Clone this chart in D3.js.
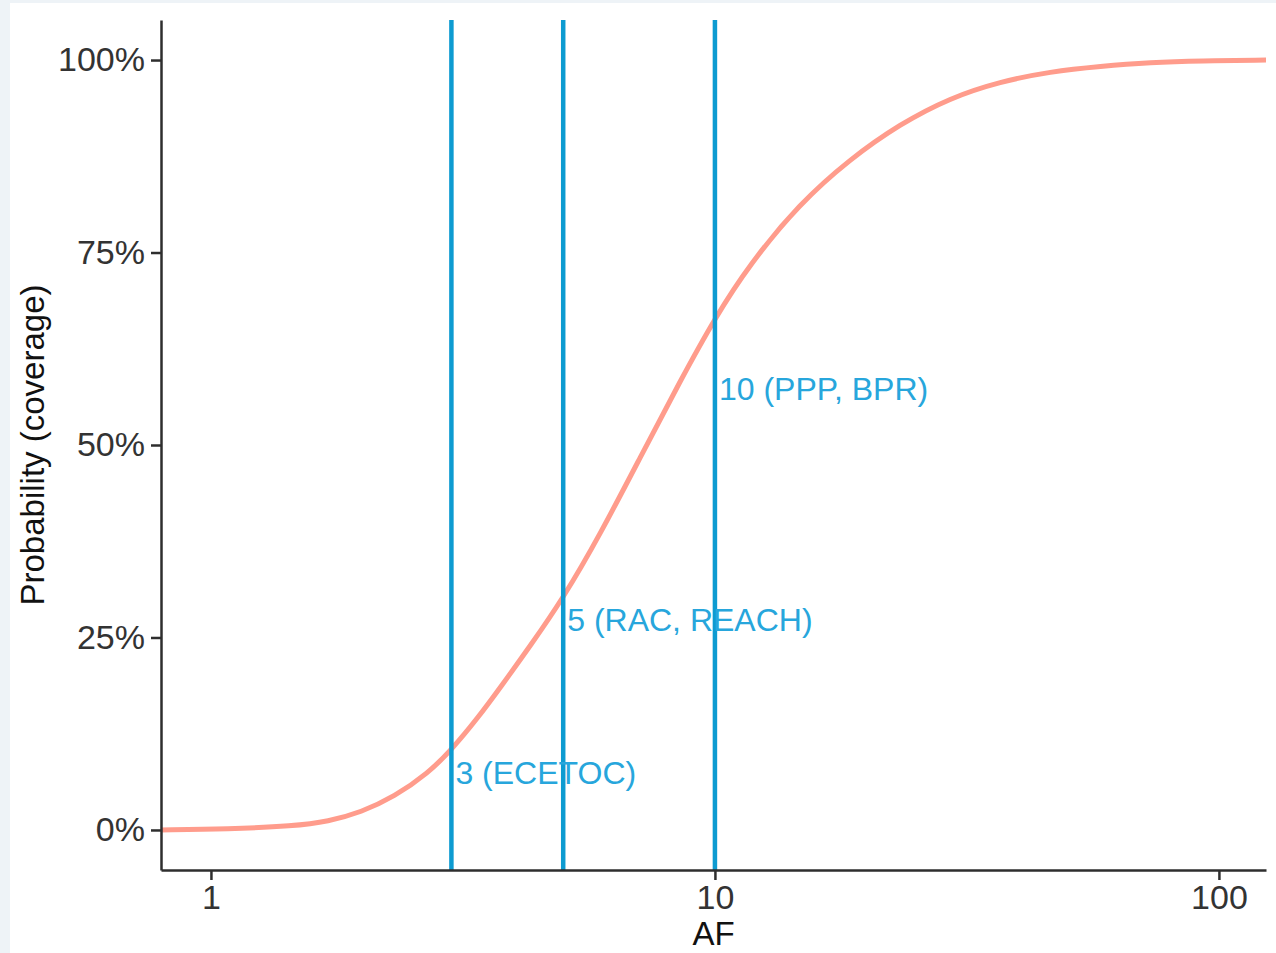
<!DOCTYPE html>
<html>
<head>
<meta charset="utf-8">
<script src="https://cdn.jsdelivr.net/npm/d3@7"></script>
<style>
  body { margin: 0; background: #eef3f7; }
  svg { display: block; }
  text { font-family: "Liberation Sans", Arial, sans-serif; }
</style>
</head>
<body>
<script>
// coverage curve (AF, probability)
const afValues = [0.796, 1.08, 1.46, 1.71, 1.985, 2.31, 2.70, 3.0, 3.39, 3.76, 4.29, 5.0, 5.91, 7.11, 8.53, 10, 11.73, 14.7, 18.5, 23.3, 29.3, 36.8, 46.3, 58.2, 73.2, 92, 124];
const coverage = [0, 0.001, 0.005, 0.011, 0.023, 0.043, 0.074, 0.104, 0.146, 0.186, 0.238, 0.301, 0.383, 0.484, 0.583, 0.665, 0.735, 0.813, 0.871, 0.917, 0.951, 0.972, 0.985, 0.992, 0.997, 0.999, 1.0];

// reference assessment factors
const refAF = [3, 5, 10];
const refLabels = ["3 (ECETOC)", "5 (RAC, REACH)", "10 (PPP, BPR)"];
const refLabelY = [0.075, 0.273, 0.574];

const xTicks = [1, 10, 100];
const yTicks = [0, 0.25, 0.5, 0.75, 1];

const width = 1276, height = 953;
const plotLeft = 161, plotRight = 1266, plotTop = 20, plotBottom = 870;

const svg = d3.select("body").append("svg")
    .attr("width", width)
    .attr("height", height);

svg.append("rect")
    .attr("x", 10).attr("y", 3)
    .attr("width", width - 10).attr("height", height - 3)
    .attr("fill", "#ffffff");

const x = d3.scaleLog()
    .domain([0.796, 124])
    .range([plotLeft, plotRight]);

const y = d3.scaleLinear()
    .domain([-0.052, 1.052])
    .range([plotBottom, plotTop]);

svg.append("clipPath").attr("id", "clip")
    .append("rect")
    .attr("x", plotLeft).attr("y", plotTop)
    .attr("width", plotRight - plotLeft).attr("height", plotBottom - plotTop);

const pts = afValues.map((d, i) => [d, coverage[i]]);

const line = d3.line()
    .x(d => x(d[0]))
    .y(d => y(d[1]))
    .curve(d3.curveBasis);

svg.append("path")
    .datum(pts)
    .attr("clip-path", "url(#clip)")
    .attr("d", line)
    .attr("fill", "none")
    .attr("stroke", "#ff9c8c")
    .attr("stroke-width", 5);

svg.selectAll("line.ref")
    .data(refAF)
    .enter().append("line")
    .attr("class", "ref")
    .attr("x1", d => x(d)).attr("x2", d => x(d))
    .attr("y1", plotTop).attr("y2", plotBottom)
    .attr("stroke", "#0d9bd1")
    .attr("stroke-width", 4.5);

svg.selectAll("text.ref")
    .data(refAF)
    .enter().append("text")
    .attr("class", "ref")
    .attr("x", d => x(d) + 4)
    .attr("y", (d, i) => y(refLabelY[i]))
    .attr("dy", "0.36em")
    .attr("fill", "#27a6dc")
    .attr("font-size", 32)
    .text((d, i) => refLabels[i]);

// axes
const xAxis = svg.append("g")
    .attr("transform", `translate(0,${plotBottom})`)
    .call(d3.axisBottom(x).tickValues(xTicks).tickFormat(d3.format("d")).tickSize(10).tickPadding(5).tickSizeOuter(0));

const yAxis = svg.append("g")
    .attr("transform", `translate(${plotLeft},0)`)
    .call(d3.axisLeft(y).tickValues(yTicks).tickFormat(d3.format(".0%")).tickSize(10).tickPadding(6).tickSizeOuter(0));

[xAxis, yAxis].forEach(g => {
    g.select(".domain").attr("stroke", "#2e2e2e").attr("stroke-width", 2.5);
    g.selectAll(".tick line").attr("stroke", "#2e2e2e").attr("stroke-width", 2.5);
    g.selectAll(".tick text")
        .attr("fill", "#333333")
        .attr("font-size", 34)
        .attr("font-family", "Liberation Sans, Arial, sans-serif");
});

svg.append("text")
    .attr("x", (plotLeft + plotRight) / 2)
    .attr("y", 945)
    .attr("text-anchor", "middle")
    .attr("font-size", 33)
    .attr("fill", "#111")
    .text("AF");

svg.append("text")
    .attr("transform", `translate(44,${(plotTop + plotBottom) / 2}) rotate(-90)`)
    .attr("text-anchor", "middle")
    .attr("font-size", 33)
    .attr("fill", "#111")
    .text("Probability (coverage)");
</script>
</body>
</html>
